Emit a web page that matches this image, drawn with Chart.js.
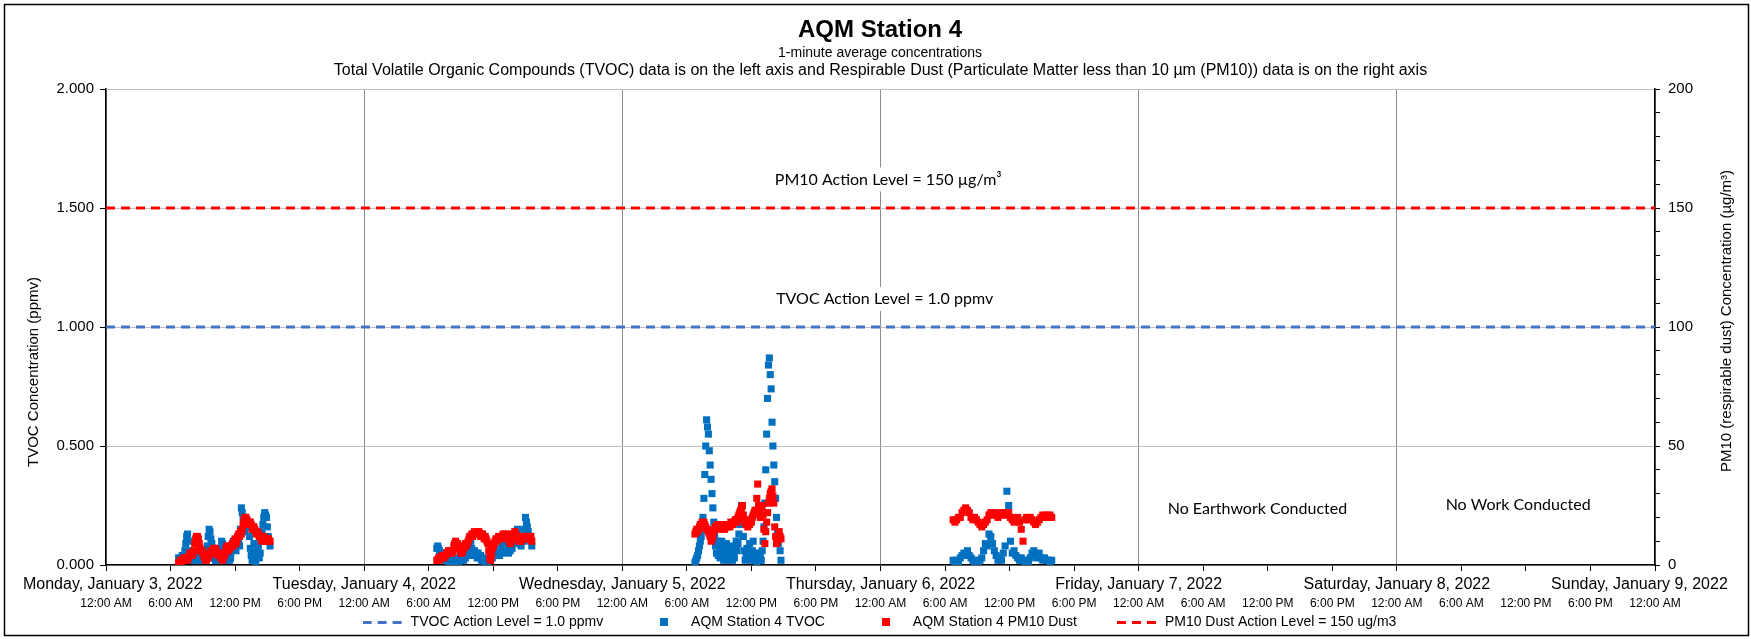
<!DOCTYPE html>
<html lang="en">
<head>
<meta charset="UTF-8">
<title>AQM Station 4</title>
<script src="https://cdn.jsdelivr.net/npm/chart.js@4.4.1/dist/chart.umd.min.js"></script>
<style>
    html, body { margin: 0; padding: 0; background: #fff; }
    .chart-box { position: relative; width: 1751px; height: 639px; }
</style>
</head>
<body>
<div class="chart-box"><canvas id="aqmChart"></canvas></div>
<script>
// axis labels
const dayLabels = ['Monday, January 3, 2022', 'Tuesday, January 4, 2022', 'Wednesday, January 5, 2022',
    'Thursday, January 6, 2022', 'Friday, January 7, 2022', 'Saturday, January 8, 2022', 'Sunday, January 9, 2022'];
const timeLabels = ['12:00 AM', '6:00 AM', '12:00 PM', '6:00 PM'];

// action levels
const tvocActionLevel = 1.0;   // ppmv
const pmActionLevel = 150;     // ug/m3

// monitoring started about 6:45 AM each work day
const startHour = 6.75;

// TVOC (ppmv), one reading every 5 min (Thursday every 10 min)
const monTvoc = [0.03, 0.02, 0.02, 0.03, 0.04, 0.02, 0.03, 0.06, 0.09, 0.12,
    0.13, 0.10, 0.06, 0.04, 0.02, 0.03, 0.04, 0.02, 0.03, 0.05,
    0.05, 0.03, 0.02, 0.04, 0.04, 0.02, 0.03, 0.05, 0.06, 0.04,
    0.02, 0.05, 0.08, 0.12, 0.15, 0.14, 0.11, 0.09, 0.07, 0.05,
    0.03, 0.02, 0.02, 0.03, 0.04, 0.02, 0.03, 0.07, 0.10, 0.09,
    0.08, 0.05, 0.03, 0.02, 0.02, 0.03, 0.04, 0.02, 0.03, 0.06,
    0.08, 0.10, 0.10, 0.07, 0.06, 0.10, 0.12, 0.10, 0.08, 0.15,
    0.24, 0.22, 0.20, 0.17, 0.14, 0.16, 0.19, 0.18, 0.16, 0.12,
    0.07, 0.04, 0.02, 0.05, 0.09, 0.04, 0.01, 0.03, 0.06, 0.08,
    0.03, 0.05, 0.10, 0.14, 0.17, 0.20, 0.22, 0.21, 0.20, 0.16,
    0.12, 0.10, 0.08];
const tueTvoc = [0.07, 0.08, 0.07, 0.06, 0.05, 0.04, 0.05, 0.04, 0.05, 0.03,
    0.02, 0.03, 0.02, 0.01, 0.02, 0.03, 0.01, 0.02, 0.01, 0.02,
    0.01, 0.02, 0.01, 0.02, 0.03, 0.01, 0.02, 0.03, 0.02, 0.03,
    0.02, 0.04, 0.03, 0.05, 0.04, 0.06, 0.09, 0.12, 0.10, 0.07,
    0.05, 0.04, 0.06, 0.04, 0.05, 0.03, 0.05, 0.04, 0.03, 0.04,
    0.02, 0.03, 0.02, 0.01, 0.02, 0.01, 0.02, 0.01, 0.02, 0.03,
    0.02, 0.04, 0.03, 0.05, 0.04, 0.06, 0.05, 0.04, 0.06, 0.05,
    0.04, 0.06, 0.07, 0.05, 0.08, 0.06, 0.07, 0.09, 0.08, 0.06,
    0.05, 0.07, 0.06, 0.08, 0.07, 0.10, 0.09, 0.11, 0.13, 0.14,
    0.15, 0.12, 0.10, 0.09, 0.08, 0.11, 0.12, 0.10, 0.15, 0.20,
    0.18, 0.16, 0.14, 0.12, 0.11, 0.10, 0.08];
const wedTvoc = [0.01, 0.02, 0.03, 0.04, 0.06, 0.08, 0.10, 0.12, 0.15, 0.20,
    0.28, 0.38, 0.50, 0.61, 0.58, 0.55, 0.48, 0.42, 0.36, 0.30,
    0.24, 0.18, 0.12, 0.08, 0.05, 0.10, 0.04, 0.08, 0.03, 0.06,
    0.10, 0.05, 0.02, 0.07, 0.04, 0.09, 0.05, 0.02, 0.06, 0.04,
    0.08, 0.03, 0.02, 0.05, 0.03, 0.07, 0.10, 0.06, 0.09, 0.13,
    0.17, 0.22, 0.25, 0.20, 0.12, 0.06, 0.02, 0.04, 0.07, 0.03,
    0.05, 0.09, 0.04, 0.02, 0.06, 0.10, 0.05, 0.02, 0.04, 0.01,
    0.03, 0.02, 0.05, 0.03, 0.02, 0.06, 0.10, 0.16, 0.26, 0.40,
    0.55, 0.70, 0.84, 0.87, 0.80, 0.74, 0.60, 0.50, 0.42, 0.35,
    0.28, 0.20, 0.14, 0.09, 0.12, 0.06, 0.02];
const thuTvoc = [0.02, 0.01, 0.02, 0.01, 0.03, 0.04, 0.05, 0.04, 0.06, 0.04,
    0.03, 0.02, 0.01, 0.02, 0.01, 0.02, 0.03, 0.06, 0.09, 0.08,
    0.13, 0.12, 0.09, 0.06, 0.04, 0.02, 0.03, 0.02, 0.05, 0.08,
    0.31, 0.25, 0.10, 0.05, 0.06, 0.04, 0.03, 0.02, 0.03, 0.02,
    0.01, 0.02, 0.01, 0.03, 0.05, 0.06, 0.04, 0.03, 0.05, 0.03,
    0.02, 0.03, 0.02, 0.02, 0.01, 0.02];

// PM10 dust (ug/m3), one reading every 5 min (Thursday every 10 min)
const monPm = [1, 1, 2, 1, 2, 2, 3, 2, 2, 3,
    2, 3, 4, 5, 5, 4, 5, 6, 9, 11,
    12, 12, 11, 9, 7, 6, 6, 5, 4, 3,
    2, 2, 3, 3, 4, 5, 6, 5, 6, 7,
    6, 7, 6, 5, 4, 5, 4, 3, 3, 2,
    3, 4, 5, 7, 8, 7, 6, 7, 8, 8,
    9, 8, 10, 11, 9, 10, 12, 13, 12, 14,
    13, 15, 17, 19, 20, 20, 19, 18, 17, 18,
    18, 17, 15, 16, 16, 15, 14, 13, 14, 13,
    12, 12, 11, 10, 12, 12, 11, 10, 10, 11,
    11, 10, 10];
const tuePm = [2, 2, 3, 2, 3, 3, 4, 4, 3, 4,
    4, 5, 5, 6, 5, 6, 6, 5, 6, 8,
    9, 10, 9, 9, 8, 7, 6, 5, 5, 6,
    7, 8, 9, 8, 9, 10, 11, 12, 12, 13,
    12, 13, 14, 13, 13, 14, 13, 14, 13, 12,
    13, 13, 12, 11, 12, 11, 10, 9, 6, 3,
    2, 4, 7, 8, 9, 10, 11, 10, 11, 12,
    11, 12, 11, 12, 13, 12, 13, 12, 13, 12,
    11, 10, 9, 10, 12, 13, 13, 14, 13, 12,
    12, 11, 10, 11, 10, 11, 12, 11, 12, 11,
    12, 11, 12, 11, 11, 12, 10];
const wedPm = [13, 14, 15, 14, 15, 16, 17, 16, 18, 17,
    18, 17, 16, 15, 15, 14, 13, 12, 10, 11,
    12, 14, 15, 16, 16, 17, 17, 16, 16, 15,
    17, 16, 16, 15, 17, 16, 16, 17, 17, 16,
    18, 17, 17, 18, 18, 19, 19, 18, 20, 21,
    22, 23, 24, 25, 21, 19, 18, 17, 17, 16,
    18, 17, 19, 18, 20, 21, 22, 23, 22, 28,
    34, 25, 22, 20, 25, 24, 21, 15, 9, 14,
    18, 22, 26, 28, 30, 31, 32, 29, 26, 16,
    12, 9, 10, 12, 14, 12, 11];
const thuPm = [19, 18, 19, 20, 20, 22, 23, 24, 23, 22,
    20, 19, 20, 19, 18, 17, 16, 17, 18, 19,
    21, 22, 21, 22, 21, 20, 21, 22, 21, 22,
    21, 22, 20, 19, 18, 19, 20, 18, 15, 10,
    19, 20, 19, 20, 19, 18, 17, 18, 19, 20,
    21, 20, 21, 20, 21, 20];

const tvocColor = '#0070C0';
const pmColor = '#FF0000';
const tvocLineColor = '#4472C4';
const sans = "'Liberation Sans', Arial, sans-serif";
const subtitle2 = 'Total Volatile Organic Compounds (TVOC) data is on the left axis and Respirable Dust (Particulate Matter less than 10 µm (PM10)) data is on the right axis';

// x is in days from Monday 12:00 AM
function toPoints(day, values, stepMin) {
    return values.map((v, i) => ({ x: day + (startHour + i * stepMin / 60) / 24, y: v }));
}
const tvocPoints = [].concat(toPoints(0, monTvoc, 5), toPoints(1, tueTvoc, 5), toPoints(2, wedTvoc, 5), toPoints(3, thuTvoc, 10));
const pmPoints = [].concat(toPoints(0, monPm, 5), toPoints(1, tuePm, 5), toPoints(2, wedPm, 5), toPoints(3, thuPm, 10));

// legend icons
function squareIcon(color) {
    const c = document.createElement('canvas');
    c.width = 8; c.height = 8;
    const g = c.getContext('2d');
    g.fillStyle = color;
    g.fillRect(0, 0, 8, 8);
    return c;
}
function dashIcon(color) {
    const c = document.createElement('canvas');
    c.width = 42; c.height = 3;
    const g = c.getContext('2d');
    g.fillStyle = color;
    for (let x = 0; x < 42; x += 15) g.fillRect(x, 0, 9, 3);
    return c;
}
const legendIcons = [dashIcon(tvocLineColor), squareIcon(tvocColor), squareIcon(pmColor), dashIcon(pmColor)];
const legendGap = '          ';

// text placed on the plot
const notes = [
    { text: 'PM10 Action Level = 150 µg/m³', x: 3.03, y: 162, axis: 'y1', box: true },
    { text: 'TVOC Action Level = 1.0 ppmv', x: 3.016, y: 1.118, axis: 'y', box: true },
    { text: 'No Earthwork Conducted', x: 4.46, y: 0.235, axis: 'y', box: false },
    { text: 'No Work Conducted', x: 5.47, y: 0.252, axis: 'y', box: false }
];

const overlay = {
    id: 'overlay',
    beforeDraw(chart) {
        const ctx = chart.ctx;
        ctx.save();
        ctx.fillStyle = '#fff';
        ctx.fillRect(0, 0, chart.width, chart.height);
        ctx.restore();
    },
    afterDatasetsDraw(chart) {
        const { ctx, scales } = chart;
        const area = chart.chartArea;
        ctx.save();
        ctx.textAlign = 'center';
        ctx.textBaseline = 'middle';
        ctx.fillStyle = '#000';

        // second subtitle line, larger than the first
        ctx.font = '16px ' + sans;
        ctx.fillText(subtitle2, (area.left + area.right) / 2, 71);

        ctx.font = "16px Lato, 'Open Sans', sans-serif";
        notes.forEach(n => {
            const px = scales.x.getPixelForValue(n.x);
            const py = scales[n.axis].getPixelForValue(n.y);
            if (n.box) {
                const w = ctx.measureText(n.text).width;
                ctx.fillStyle = '#fff';
                ctx.fillRect(px - w / 2 - 5, py - 12, w + 10, 24);
            }
            ctx.fillStyle = '#000';
            ctx.fillText(n.text, px, py);
        });

        // axis titles, both read bottom to top
        ctx.font = '15px ' + sans;
        ctx.translate(34, 372);
        ctx.rotate(-Math.PI / 2);
        ctx.fillText('TVOC Concentration (ppmv)', 0, 0);
        ctx.setTransform(1, 0, 0, 1, 0, 0);
        ctx.translate(1727, 321);
        ctx.rotate(-Math.PI / 2);
        ctx.fillText('PM10 (respirable dust) Concentration (µg/m³)', 0, 0);
        ctx.restore();
    },
    afterDraw(chart) {
        const ctx = chart.ctx;
        ctx.save();
        ctx.strokeStyle = '#000';
        ctx.lineWidth = 1.5;
        ctx.strokeRect(4.5, 4.5, chart.width - 7, chart.height - 8);
        ctx.restore();
    }
};

new Chart(document.getElementById('aqmChart'), {
    type: 'scatter',
    data: {
        datasets: [{
            label: 'TVOC Action Level = 1.0 ppmv',
            data: [{ x: 0, y: tvocActionLevel }, { x: 6, y: tvocActionLevel }],
            yAxisID: 'y',
            showLine: true,
            borderColor: tvocLineColor,
            borderWidth: 3,
            borderDash: [9, 6],
            pointRadius: 0,
            order: 0
        }, {
            label: 'AQM Station 4 TVOC',
            data: tvocPoints,
            yAxisID: 'y',
            backgroundColor: tvocColor,
            borderColor: tvocColor,
            pointStyle: 'rect',
            pointRadius: 5,
            pointBorderWidth: 0,
            order: 2
        }, {
            label: 'AQM Station 4 PM10 Dust',
            data: pmPoints,
            yAxisID: 'y1',
            backgroundColor: pmColor,
            borderColor: pmColor,
            pointStyle: 'rect',
            pointRadius: 5,
            pointBorderWidth: 0,
            order: 1
        }, {
            label: 'PM10 Dust Action Level = 150 ug/m3',
            data: [{ x: 0, y: pmActionLevel }, { x: 6, y: pmActionLevel }],
            yAxisID: 'y1',
            showLine: true,
            borderColor: pmColor,
            borderWidth: 3,
            borderDash: [9, 6],
            pointRadius: 0,
            order: 0
        }]
    },
    options: {
        responsive: true,
        maintainAspectRatio: false,
        animation: false,
        events: [],
        layout: { padding: { left: 9, right: 0, top: 0, bottom: 0 } },
        scales: {
            x: {
                type: 'linear',
                position: 'bottom',
                min: 0,
                max: 6,
                ticks: {
                    stepSize: 0.25,
                    autoSkip: false,
                    maxRotation: 0,
                    padding: 3.9,
                    color: '#000',
                    font: { family: sans, size: 16 },
                    callback: v => {
                        if (!Number.isInteger(v)) return '';
                        if (v === 0) return '   ' + dayLabels[v];
                        if (v === 6) return dayLabels[v] + '       ';
                        return dayLabels[v];
                    }
                },
                grid: {
                    color: c => Number.isInteger(c.tick.value) ? '#8c8c8c' : 'rgba(0,0,0,0)',
                    tickColor: '#000',
                    tickLength: 6
                },
                border: { color: '#000', width: 1.5 },
                afterFit: s => { s.height = 29; s.paddingLeft = 0; s.paddingRight = 0; }
            },
            x2: {
                type: 'linear',
                position: 'bottom',
                min: 0,
                max: 6,
                ticks: {
                    stepSize: 0.25,
                    autoSkip: false,
                    maxRotation: 0,
                    padding: 2.3,
                    color: '#000',
                    font: { family: sans, size: 12 },
                    callback: v => timeLabels[Math.round(v * 4) % 4]
                },
                grid: { display: false, drawTicks: false },
                border: { display: false },
                afterFit: s => { s.height = 19; s.paddingLeft = 0; s.paddingRight = 0; }
            },
            y: {
                position: 'left',
                min: 0,
                max: 2,
                ticks: {
                    stepSize: 0.5,
                    padding: 6,
                    color: '#000',
                    font: { family: sans, size: 15 },
                    callback: v => v.toFixed(3)
                },
                grid: { color: '#c0c0c0', tickColor: '#000', tickLength: 6 },
                border: { color: '#000', width: 1.5 },
                afterFit: s => { s.width = 97; }
            },
            y1: {
                position: 'right',
                min: 0,
                max: 200,
                ticks: {
                    stepSize: 10,
                    autoSkip: false,
                    padding: 8,
                    color: '#000',
                    font: { family: sans, size: 15 },
                    callback: v => (v % 50 === 0 ? String(v) : '')
                },
                grid: { drawOnChartArea: false, tickColor: '#000', tickLength: 5 },
                border: { color: '#000', width: 1.5 },
                afterFit: s => { s.width = 96; }
            }
        },
        plugins: {
            title: {
                display: true,
                text: 'AQM Station 4',
                color: '#000',
                font: { family: sans, size: 24, weight: 'bold' },
                padding: { top: 15.5, bottom: 0 }
            },
            subtitle: {
                display: true,
                text: '1-minute average concentrations',
                color: '#000',
                font: { family: sans, size: 14 },
                padding: { top: 0, bottom: 27.9 }
            },
            legend: {
                position: 'bottom',
                labels: {
                    usePointStyle: true,
                    pointStyleWidth: 40,
                    boxHeight: 8,
                    padding: 2,
                    color: '#000',
                    font: { family: sans, size: 14 },
                    sort: (a, b) => a.datasetIndex - b.datasetIndex,
                    generateLabels: chart => Chart.defaults.plugins.legend.labels.generateLabels(chart)
                        .map(item => Object.assign(item, {
                            pointStyle: legendIcons[item.datasetIndex],
                            text: item.datasetIndex < 3 ? item.text + legendGap : item.text
                        }))
                }
            },
            tooltip: { enabled: false }
        }
    },
    plugins: [overlay]
});
</script>
</body>
</html>
